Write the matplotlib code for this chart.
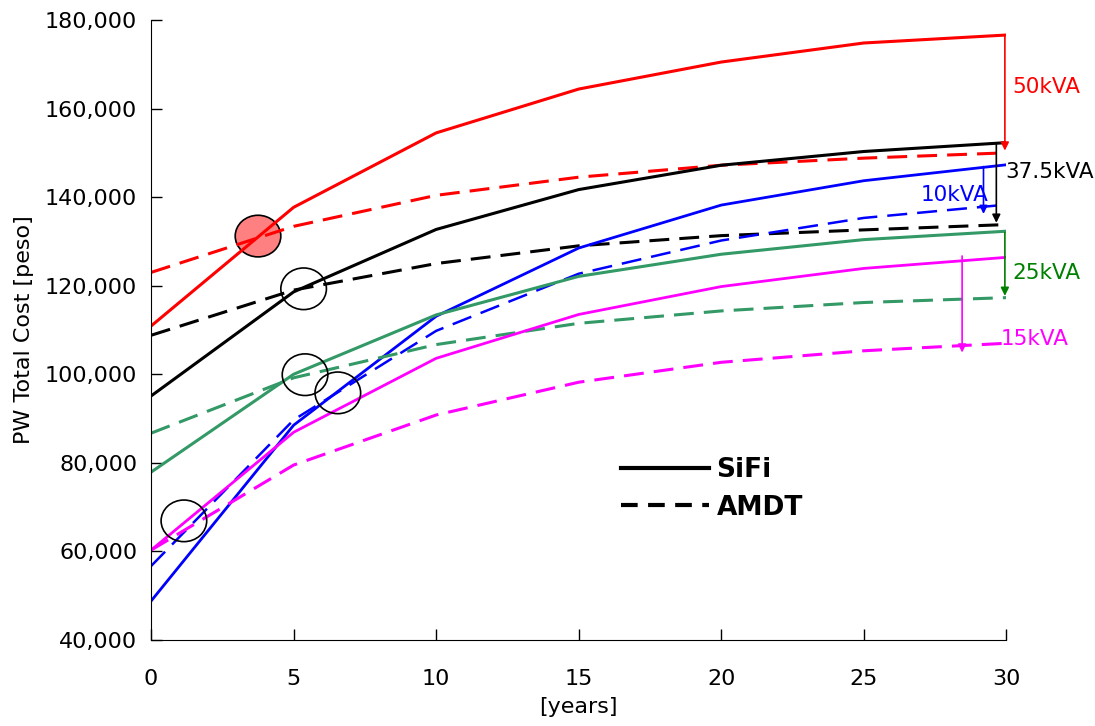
import matplotlib
matplotlib.use("Agg")
import matplotlib.pyplot as plt
from matplotlib.patches import Ellipse
from matplotlib.ticker import FuncFormatter

years = [0, 5, 10, 15, 20, 25, 30]

# PW total cost [peso], SiFi (solid) and AMDT (dashed) per rating
sifi_50 = [110900, 137700, 154500, 164400, 170500, 174800, 176600]
amdt_50 = [123000, 133400, 140400, 144500, 147200, 148800, 150000]
sifi_375 = [95100, 118600, 132700, 141700, 147200, 150300, 152300]
amdt_375 = [108800, 119000, 125000, 129000, 131300, 132600, 133800]
sifi_10 = [48800, 88500, 113100, 128500, 138200, 143700, 147300]
amdt_10 = [56700, 89700, 109800, 122700, 130200, 135300, 138300]
sifi_25 = [77900, 100000, 113400, 122100, 127100, 130400, 132300]
amdt_25 = [86700, 99200, 106700, 111500, 114300, 116200, 117300]
sifi_15 = [60300, 86900, 103600, 113500, 119800, 123900, 126400]
amdt_15 = [60300, 79500, 90800, 98200, 102700, 105300, 107000]

fig = plt.figure(figsize=(10.95, 7.26), dpi=100)
ax = fig.add_axes([0.138, 0.1185, 0.781, 0.854])

dash = (0, (6.5, 3.3))
ax.plot(years, sifi_50, color="red", lw=2.2)
ax.plot(years, amdt_50, color="red", lw=2.2, ls=dash)
ax.plot(years, sifi_375, color="black", lw=2.2)
ax.plot(years, amdt_375, color="black", lw=2.2, ls=dash)
ax.plot(years, sifi_10, color="blue", lw=2.0)
ax.plot(years, amdt_10, color="blue", lw=1.8, ls=(0, (8, 4)))
ax.plot(years, sifi_25, color="#339966", lw=2.2)
ax.plot(years, amdt_25, color="#339966", lw=2.2, ls=dash)
ax.plot(years, sifi_15, color="magenta", lw=2.0)
ax.plot(years, amdt_15, color="magenta", lw=2.2, ls=dash)

# difference arrows and labels
def arrow(x, y0, y1, c):
    ax.annotate("", xy=(x, y1), xytext=(x, y0),
                arrowprops=dict(arrowstyle="-|>", color=c, lw=1.2,
                                mutation_scale=12, shrinkA=0, shrinkB=0))

arrow(29.95, 176600, 150500, "red")
arrow(29.65, 152200, 134200, "black")
arrow(29.2, 146900, 136200, "blue")
arrow(29.95, 132000, 117700, "green")
arrow(28.45, 126700, 104900, "magenta")

fs = 15.5
ax.text(30.2, 164800, "50kVA", color="red", fontsize=fs, va="center")
ax.text(29.95, 145700, "37.5kVA", color="black", fontsize=fs, va="center")
ax.text(27.0, 140500, "10kVA", color="blue", fontsize=fs, va="center")
ax.text(30.2, 122900, "25kVA", color="green", fontsize=fs, va="center")
ax.text(29.8, 108000, "15kVA", color="magenta", fontsize=fs, va="center")

# crossing circles
ax.add_patch(Ellipse((3.75, 131200), 1.6, 9400, facecolor="#ff8080",
                     edgecolor="black", lw=1.2, zorder=1))
for cx, cy in [(5.35, 119300), (5.4, 99900), (6.55, 95800), (1.15, 66900)]:
    ax.add_patch(Ellipse((cx, cy), 1.6, 9400, facecolor="none",
                         edgecolor="black", lw=1.2, zorder=3))

# legend
ax.plot([], [], color="black", lw=3.0, label="SiFi")
ax.plot([], [], color="black", lw=3.0, ls=(0, (4, 2.5)), label="AMDT")
handles, labels = ax.get_legend_handles_labels()
ax.legend(handles[-2:], labels[-2:], loc="center", bbox_to_anchor=(0.656, 0.244),
          frameon=False, prop={"size": 19, "weight": "bold"},
          handlelength=3.3, handletextpad=0.3, labelspacing=0.45)

ax.set_xlim(0, 30)
ax.set_ylim(40000, 180000)
ax.set_xticks(range(0, 31, 5))
ax.set_yticks(range(40000, 180001, 20000))
ax.yaxis.set_major_formatter(FuncFormatter(lambda v, p: f"{int(v):,}"))
ax.tick_params(direction="in", length=8, labelsize=16, width=1)
ax.tick_params(axis="x", pad=21)
ax.tick_params(axis="y", pad=10)
ax.spines["top"].set_visible(False)
ax.spines["right"].set_visible(False)
ax.set_xlabel("[years]", fontsize=16, labelpad=6)
ax.set_ylabel("PW Total Cost [peso]", fontsize=16, labelpad=8)

fig.savefig("out.png", dpi=100)
